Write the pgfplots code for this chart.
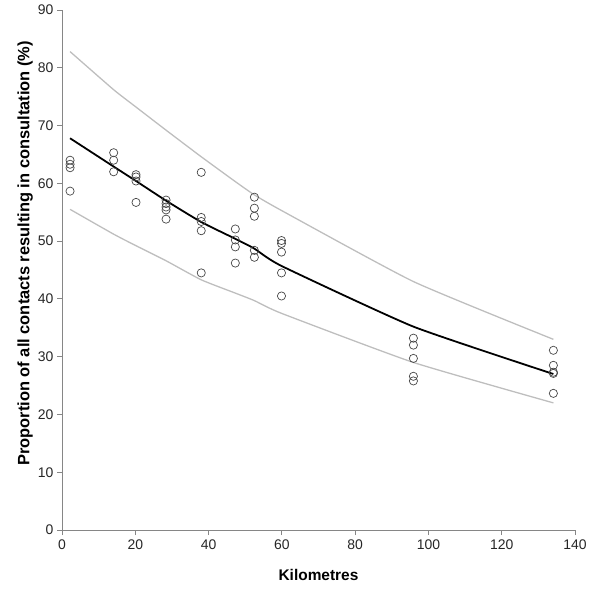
\documentclass[border=0pt]{standalone}
\usepackage{pgfplots}
\pgfplotsset{compat=1.18}
\usepackage{fontspec}
\setmainfont{Liberation Sans}
\definecolor{axgray}{RGB}{134,134,134}
\definecolor{bandgray}{RGB}{190,190,190}
\definecolor{mkgray}{RGB}{70,70,70}
\begin{document}
\begin{tikzpicture}
\useasboundingbox (0,0) rectangle (600bp,591bp);
\begin{axis}[
  at={(62bp,61bp)}, anchor=south west,
  scale only axis, width=513bp, height=520bp,
  xmin=0, xmax=140, ymin=0, ymax=90,
  xtick={0,20,...,140}, ytick={0,10,...,90},
  axis x line*=bottom, axis y line*=left,
  axis line style={axgray, line width=0.8pt, -},
  tick style={axgray, line width=0.8pt},
  tick align=outside, major tick length=5bp,
  /pgf/number format/assume math mode=true,
  ticklabel style={font=\fontsize{14}{16}\selectfont, text=black!85},
  xticklabel style={yshift=-1bp},
  xlabel={\textbf{Kilometres}},
  ylabel={\textbf{Proportion of all contacts resulting in consultation (\%)}},
  xlabel style={font=\fontsize{15.5}{18}\selectfont, at={(axis description cs:0.5,-0.0865)}, anchor=center},
  ylabel style={font=\fontsize{16.5}{19}\selectfont, at={(axis description cs:-0.072,0.532)}, anchor=center},
  clip=false,
]
\addplot[bandgray, line width=1.3pt, smooth, tension=0.3] coordinates {
(2.2,82.8) (14.1,76.2) (20.2,73.2) (28.4,69.2) (38,64.6) (47.3,60.3) (52.5,58.0) (59.9,55.3) (95.9,43.0) (134.1,33.0)};
\addplot[bandgray, line width=1.3pt, smooth, tension=0.3] coordinates {
(2.2,55.5) (14.1,51.2) (20.2,49.2) (28.4,46.6) (38,43.3) (47.3,41.0) (52.5,39.7) (59.9,37.5) (95.9,29.0) (134.1,22.0)};
\addplot[black, line width=1.8pt, smooth, tension=0.3] coordinates {
(2.2,67.8) (14.1,62.9) (20.2,60.4) (28.4,57.0) (38,53.3) (47.3,50.4) (52.5,48.7) (59.9,45.7) (95.9,35.2) (134.1,27.0)};
\addplot[only marks, mark=o, mark size=4.1bp, mark options={mkgray, line width=0.7pt}] coordinates {
(2.2,64.0) (2.2,63.3) (2.2,62.7) (2.2,58.65)
(14.1,65.3) (14.1,64.0) (14.1,62.0)
(20.2,61.5) (20.2,61.1) (20.2,60.4) (20.2,56.7)
(28.4,57.1) (28.4,56.5) (28.4,55.9) (28.4,55.4) (28.4,53.8)
(38,61.9) (38,54.1) (38,53.4) (38,51.8) (38,44.5)
(47.3,52.1) (47.3,50.2) (47.3,49.0) (47.3,46.2)
(52.5,57.6) (52.5,55.7) (52.5,54.3) (52.5,48.4) (52.5,47.2)
(59.9,50.1) (59.9,49.6) (59.9,48.1) (59.9,44.5) (59.9,40.5)
(95.9,33.2) (95.9,32.0) (95.9,29.7) (95.9,26.6) (95.9,25.8)
(134.1,31.1) (134.1,28.5) (134.1,27.3) (134.1,27.1) (134.1,23.65)};
\end{axis}
\end{tikzpicture}
\end{document}
